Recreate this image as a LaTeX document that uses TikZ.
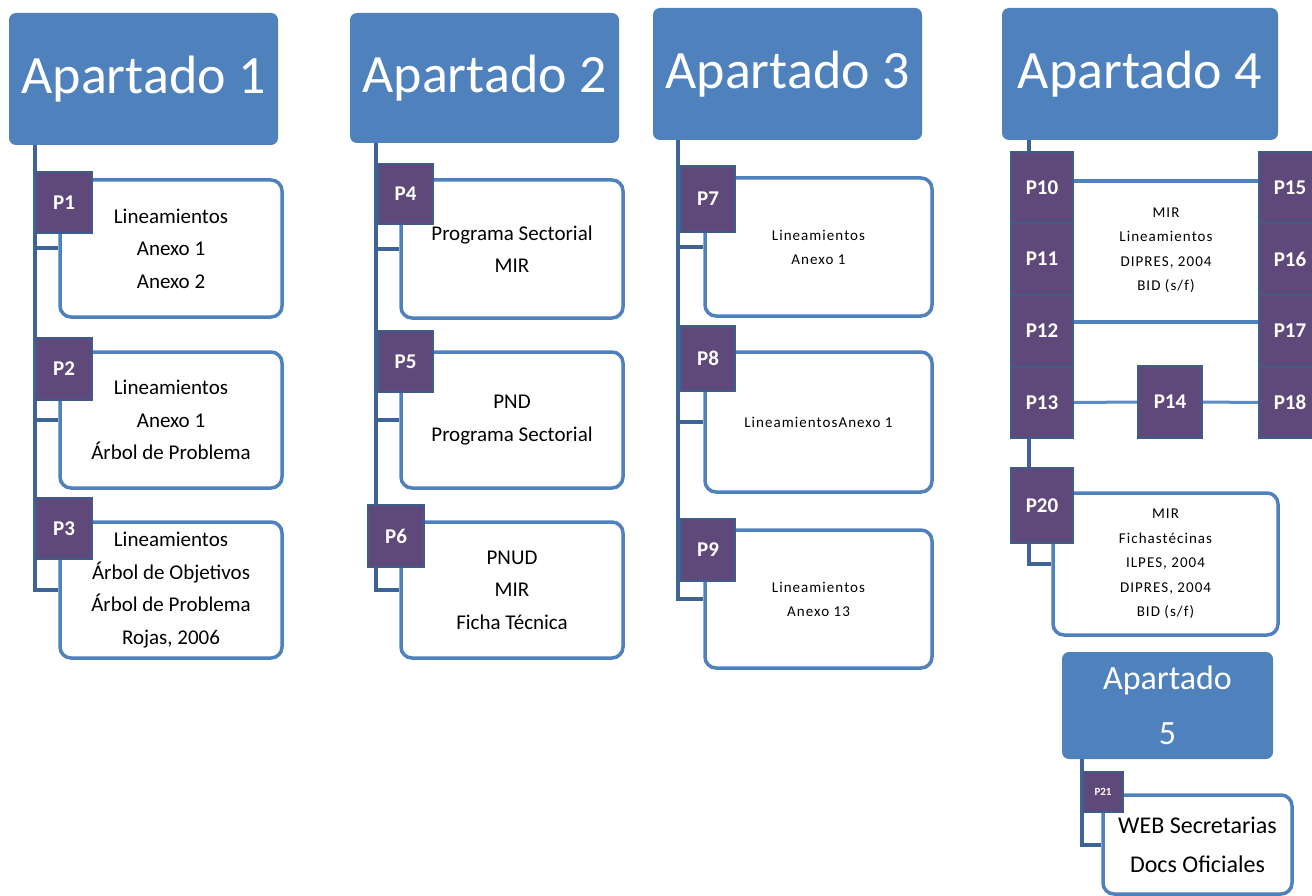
\documentclass[tikz,border=0pt]{standalone}
\usepackage{fontspec}
\setmainfont{Carlito}
\newfontfamily\spaced[LetterSpace=7]{Carlito}
\definecolor{hdrblue}{HTML}{4F81BD}
\definecolor{boxblue}{HTML}{4F81BD}
\definecolor{lineblue}{HTML}{3E6497}
\definecolor{psqfill}{HTML}{5F497A}
\definecolor{psqline}{HTML}{3F5C8A}
\definecolor{thinblue}{HTML}{5B8BC8}
\pgfdeclarelayer{background}
\pgfsetlayers{background,main}
\begin{document}
\begin{tikzpicture}[x=1pt,y=-1pt,
  hdr/.style={fill=hdrblue, rounded corners=7pt, text=white, inner sep=0pt, align=center, font=\fontsize{54}{60}\selectfont},
  cbox/.style={draw=boxblue, line width=3.5pt, rounded corners=11pt, fill=white, inner sep=0pt, align=center, font=\fontsize{21}{32.5}\selectfont},
  sbox/.style={cbox, font=\spaced\fontsize{15}{24}\selectfont},
  psq/.style={fill=psqfill, draw=psqline, line width=2pt, text=white, inner sep=0pt, font=\bfseries\fontsize{21}{24}\selectfont},
  vline/.style={draw=lineblue, line width=4pt},
  hlink/.style={draw=boxblue, line width=4pt},
  tlink/.style={draw=thinblue, line width=3pt}
]
\useasboundingbox (0,0) rectangle (1312,896);

% ---------- Apartado 1 ----------
\node[hdr, minimum width=269pt, minimum height=132pt] (h1) at (143.5,79) {Apartado 1};
\node[cbox, minimum width=222pt, minimum height=137pt] (b1) at (171,248.5) {Lineamientos\\Anexo 1\\Anexo 2};
\node[cbox, minimum width=222pt, minimum height=136pt] (b2) at (171,420) {Lineamientos\\Anexo 1\\Árbol de Problema};
\node[cbox, minimum width=222pt, minimum height=136pt] (b3) at (171,590) {Lineamientos\\Árbol de Objetivos\\Árbol de Problema\\Rojas, 2006};
\node[psq, minimum width=56pt, minimum height=61pt] (p1) at (64,202.5) {P1};
\node[psq, minimum width=56pt, minimum height=62pt] (p2) at (64,369) {P2};
\node[psq, minimum width=56pt, minimum height=61pt] (p3) at (64,528.5) {P3};
\coordinate (v1) at (35,145);

% ---------- Apartado 2 ----------
\node[hdr, minimum width=269pt, minimum height=130pt] (h2) at (484.5,78) {Apartado 2};
\node[cbox, minimum width=222pt, minimum height=138pt] (b4) at (512,249) {Programa Sectorial\\MIR};
\node[cbox, minimum width=222pt, minimum height=136pt] (b5) at (512,420) {PND\\Programa Sectorial};
\node[cbox, minimum width=222pt, minimum height=136pt] (b6) at (512,590) {PNUD\\MIR\\Ficha Técnica};
\node[psq, minimum width=55pt, minimum height=60pt] (p4) at (405.5,194) {P4};
\node[psq, minimum width=55pt, minimum height=61pt] (p5) at (405.5,361.5) {P5};
\node[psq, minimum width=56pt, minimum height=62pt] (p6) at (396,536) {P6};
\coordinate (v2) at (376,143);

% ---------- Apartado 3 ----------
\node[hdr, minimum width=269pt, minimum height=132pt] (h3) at (787.5,74) {Apartado 3};
\node[sbox, minimum width=227pt, minimum height=138pt] (b7) at (818.5,247) {Lineamientos\\Anexo 1};
\node[sbox, minimum width=227pt, minimum height=140pt] (b8) at (818.5,422) {LineamientosAnexo 1};
\node[sbox, minimum width=227pt, minimum height=138pt] (b9) at (818.5,599) {Lineamientos\\Anexo 13};
\node[psq, minimum width=54pt, minimum height=66pt] (p7) at (708,199) {P7};
\node[psq, minimum width=54pt, minimum height=65pt] (p8) at (708,358.5) {P8};
\node[psq, minimum width=54pt, minimum height=62pt] (p9) at (708,550) {P9};
\coordinate (v3) at (678,140);

% ---------- Apartado 4 ----------
\node[hdr, minimum width=276pt, minimum height=132pt] (h4) at (1140,74) {Apartado 4};
\node[psq, minimum width=62pt, minimum height=71pt] (p10) at (1042,187.5) {P10};
\node[psq, minimum width=62pt, minimum height=72pt] (p11) at (1042,259) {P11};
\node[psq, minimum width=62pt, minimum height=72pt] (p12) at (1042,331) {P12};
\node[psq, minimum width=62pt, minimum height=71pt] (p13) at (1042,402.5) {P13};
\node[psq, minimum width=64pt, minimum height=72pt] (p14) at (1170,402) {P14};
\node[psq, minimum width=62pt, minimum height=71pt] (p15) at (1290,187.5) {P15};
\node[psq, minimum width=62pt, minimum height=72pt] (p16) at (1290,259) {P16};
\node[psq, minimum width=62pt, minimum height=72pt] (p17) at (1290,331) {P17};
\node[psq, minimum width=62pt, minimum height=71pt] (p18) at (1290,402.5) {P18};
\node[align=center, inner sep=0pt, font=\spaced\fontsize{15}{24.5}\selectfont] (mt) at (1166,250) {MIR\\Lineamientos\\DIPRES, 2004\\BID (s/f)};
\node[sbox, minimum width=225pt, minimum height=142pt, font=\spaced\fontsize{15}{24.5}\selectfont] (b20) at (1165.5,564) {MIR\\Fichastécinas\\ILPES, 2004\\DIPRES, 2004\\BID (s/f)};
\node[psq, minimum width=62pt, minimum height=75pt] (p20) at (1042,505.5) {P20};
\coordinate (v4) at (1029,140);

% ---------- Apartado 5 ----------
\node[hdr, minimum width=211pt, minimum height=107pt, font=\fontsize{34}{55}\selectfont] (h5) at (1167.5,705.5) {Apartado\\5};
\node[cbox, minimum width=189pt, minimum height=99pt, font=\fontsize{24}{39}\selectfont] (b21) at (1197.5,844.5) {WEB Secretarias\\Docs Oficiales};
\node[psq, minimum width=40pt, minimum height=40pt, font=\bfseries\fontsize{11}{12}\selectfont] (p21) at (1103,792) {P21};
\coordinate (v5) at (1082,759);

% ---------- connectors ----------
\begin{pgfonlayer}{background}
\draw[vline] (v1) |- (b3.west);
\draw[vline] (b1.west -| v1) -- (b1.west);
\draw[vline] (b2.west -| v1) -- (b2.west);
\draw[vline] (v2) |- (b6.west);
\draw[vline] (b4.west -| v2) -- (b4.west);
\draw[vline] (b5.west -| v2) -- (b5.west);
\draw[vline] (v3) |- (b9.west);
\draw[vline] (b7.west -| v3) -- (b7.west);
\draw[vline] (b8.west -| v3) -- (b8.west);
\draw[vline] (v4) -- (p10.north -| v4);
\draw[vline] (p13.south -| v4) |- (b20.west);
\draw[vline] (v5) |- (b21.west);
\draw[hlink] ([yshift=6pt]p10.east) -- ([yshift=6pt]p15.west);
\draw[hlink] ([yshift=9pt]p12.east) -- ([yshift=9pt]p17.west);
\draw[tlink] (p13) -- (p14);
\draw[tlink] (p14) -- (p18);
\end{pgfonlayer}
\end{tikzpicture}
\end{document}
